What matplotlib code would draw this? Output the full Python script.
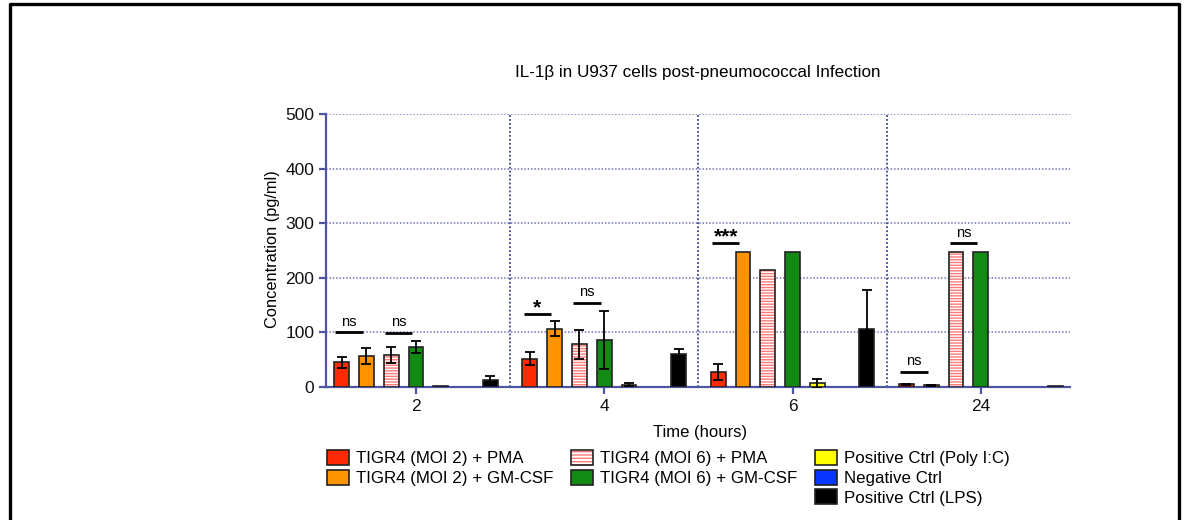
import numpy as np
import matplotlib.pyplot as plt
from matplotlib.patches import Patch
from matplotlib.lines import Line2D

plt.rcParams['font.family'] = ['Liberation Sans', 'DejaVu Sans']

# Data (pg/ml)
hours = ['2', '4', '6', '24']
moi2_pma = [45, 52, 28, 5]
moi2_pma_err = [10, 12, 15, 1]
moi2_gm = [57, 107, 248, 3]
moi2_gm_err = [15, 13, 0, 1]
moi6_pma = [59, 78, 214, 248]
moi6_pma_err = [15, 27, 0, 0]
moi6_gm = [73, 86, 248, 248]
moi6_gm_err = [11, 53, 0, 0]
poly_ic = [1, 4, 7, 0]
poly_ic_err = [0, 3, 8, 0]
neg_ctrl = [0, 0, 0, 0]
neg_ctrl_err = [0, 0, 0, 0]
lps = [13, 60, 106, 1]
lps_err = [7, 10, 72, 0]

labels = ['TIGR4 (MOI 2) + PMA', 'TIGR4 (MOI 2) + GM-CSF',
          'TIGR4 (MOI 6) + PMA', 'TIGR4 (MOI 6) + GM-CSF',
          'Positive Ctrl (Poly I:C)', 'Negative Ctrl', 'Positive Ctrl (LPS)']

# significance brackets: group, left bar index, level, text
sig_group = [0, 0, 1, 1, 2, 3, 3]
sig_left = [0, 2, 0, 2, 0, 0, 2]
sig_y = [100, 99, 134, 154, 263, 27, 263]
sig_text = ['ns', 'ns', '*', 'ns', '***', 'ns', 'ns']

series = [moi2_pma, moi2_gm, moi6_pma, moi6_gm, poly_ic, neg_ctrl, lps]
errors = [moi2_pma_err, moi2_gm_err, moi6_pma_err, moi6_gm_err,
          poly_ic_err, neg_ctrl_err, lps_err]
colors = ['#ff2a00', '#ff9400', 'white', '#138a13', '#ffff00', '#0a37ff', '#000000']

axis_col = '#4d55a3'
edge = '#222222'
group_step = 7.6
w = 0.6
centers = np.arange(len(hours)) * group_step

fig = plt.figure(figsize=(11.86, 5.2), dpi=100)
ax = fig.add_axes([326 / 1186, 1 - 387 / 520, 744 / 1186, 273 / 520])

for i, (vals, errs, c) in enumerate(zip(series, errors, colors)):
    vals = np.array(vals)
    e = np.array(errs)
    x = centers + (i - 3)
    nz = vals > 0
    if i == 2:
        ax.bar(x[nz], vals[nz], w, color='white', edgecolor='#ff7a7a', hatch='------',
               linewidth=0, zorder=3)
        ax.bar(x[nz], vals[nz], w, color='none', edgecolor=edge, linewidth=1.2, zorder=4)
    else:
        ax.bar(x[nz], vals[nz], w, color=c, edgecolor=edge, linewidth=1.2, zorder=3)
    m = e > 0
    ax.errorbar(x[m], vals[m], yerr=e[m], fmt='none', ecolor='black',
                elinewidth=1.3, capsize=3.3, capthick=1.3, zorder=5)

for g, l, y, t in zip(sig_group, sig_left, sig_y, sig_text):
    x0 = centers[g] + l - 3 - 0.25
    x1 = x0 + 1.1
    ax.plot([x0, x1], [y, y], color='black', lw=2, zorder=6, solid_capstyle='butt')
    if '*' in t:
        ax.text((x0 + x1) / 2, y - 6, t, ha='center', va='bottom', fontsize=15,
                fontweight='bold', zorder=6)
    else:
        ax.text((x0 + x1) / 2, y + 7, t, ha='center', va='bottom', fontsize=10.5,
                zorder=6)

for s in (centers[:-1] + group_step / 2):
    ax.axvline(s, color='#3c418f', lw=1.3, ls=(0, (1, 1.2)), zorder=1)

ax.set_xlim(-3.63, centers[-1] + 3.6)
ax.set_ylim(0, 500)
ax.set_yticks(range(0, 501, 100))
ax.set_xticks(centers)
ax.set_xticklabels(hours)
ax.yaxis.grid(True, color='#7075bd', lw=1.1, ls=(0, (1, 1.2)), zorder=0)
ax.set_axisbelow(True)
for sp in ('top', 'right'):
    ax.spines[sp].set_visible(False)
for sp in ('left', 'bottom'):
    ax.spines[sp].set_color(axis_col)
    ax.spines[sp].set_linewidth(1.6)
ax.tick_params(axis='both', colors=axis_col, width=1.6, length=5, labelsize=12.5,
               labelcolor='#111111')

fig.text(698 / 1186, 1 - 73 / 520, 'IL-1\u03b2 in U937 cells post-pneumococcal Infection',
         ha='center', va='center', fontsize=12.3)
fig.text(272 / 1186, 1 - 249 / 520, 'Concentration (pg/ml)', rotation=90,
         ha='center', va='center', fontsize=11.8)
fig.text(700 / 1186, 1 - 432 / 520, 'Time (hours)', ha='center', va='center',
         fontsize=12)

# legend: three columns of 2, 2 and 3 entries
blank = Patch(visible=False)
hatch_patch = (Patch(facecolor='white', edgecolor='#ff7a7a', hatch='-----', linewidth=0),
               Patch(facecolor='none', edgecolor=edge, linewidth=1.2))
hs = [Patch(facecolor=c, edgecolor=edge, linewidth=1.2) for c in colors]
handles = [hs[0], hs[1], blank, hatch_patch, hs[3], blank, hs[4], hs[5], hs[6]]
leg_labels = [labels[0], labels[1], '', labels[2], labels[3], '',
              labels[4], labels[5], labels[6]]
fig.legend(handles, leg_labels, ncol=3, loc='upper left',
           bbox_to_anchor=(320 / 1186, 1 - 443 / 520), frameon=False,
           fontsize=12.2, handlelength=1.3, handleheight=1.0, handletextpad=0.45,
           columnspacing=1.0, labelspacing=0.2, borderaxespad=0)

# outer frame (open at the bottom)
fx0, fx1, fy = 9.5 / 1186, 1179 / 1186, 1 - 4 / 520
fig.add_artist(Line2D([fx0, fx0, fx1, fx1], [-0.05, fy, fy, -0.05],
                      transform=fig.transFigure, color='black', lw=2.4))

fig.savefig('out.png', dpi=100)
